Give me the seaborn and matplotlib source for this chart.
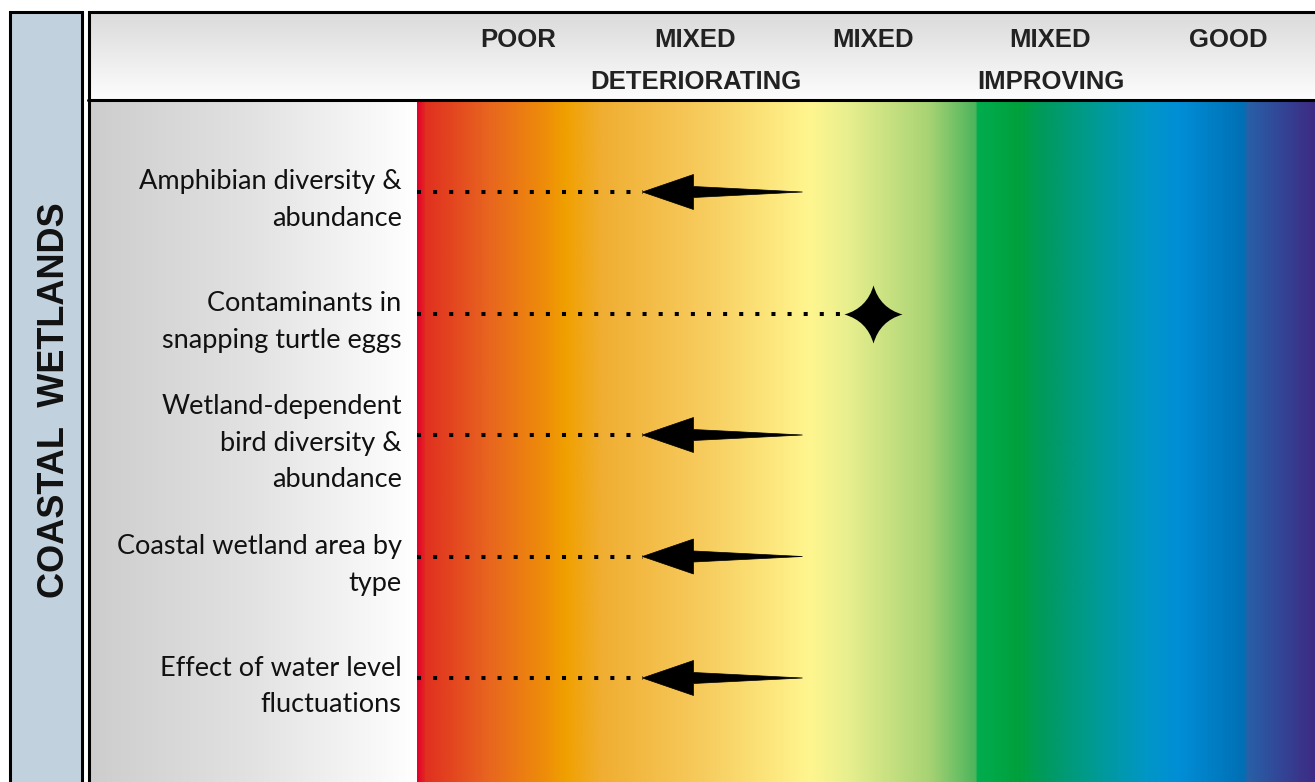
import numpy as np
import matplotlib
matplotlib.use("Agg")
import matplotlib.pyplot as plt
import matplotlib.colors as mcolors
import matplotlib.transforms as mtransforms
from matplotlib.path import Path
from matplotlib.patches import Rectangle, Polygon
from matplotlib.lines import Line2D
import seaborn as sns
import pandas as pd

####data####
section = "COASTAL  WETLANDS"
status_labels = ["POOR", "MIXED\nDETERIORATING", "MIXED", "MIXED\nIMPROVING", "GOOD"]
indicators = ["Amphibian diversity &\nabundance",
              "Contaminants in\nsnapping turtle eggs",
              "Wetland-dependent\nbird diversity &\nabundance",
              "Coastal wetland area by\ntype",
              "Effect of water level\nfluctuations"]
status = ["MIXED\nDETERIORATING", "MIXED", "MIXED\nDETERIORATING",
          "MIXED\nDETERIORATING", "MIXED\nDETERIORATING"]
trend = ["deteriorating", "undetermined", "deteriorating", "deteriorating", "deteriorating"]

####figure settings####
sns.set_style("white")
label_font = ["Lato", "DejaVu Sans"]
head_font = ["Liberation Sans", "DejaVu Sans"]

W, H = 1315, 782
COL_PX = 177.5   # pixels per status column
ROW_PX = 121.5   # pixels per indicator row

def px_rect(x0, y0, x1, y1):
    return [x0 / W, 1 - y1 / H, (x1 - x0) / W, (y1 - y0) / H]

fig = plt.figure(figsize=(W / 100, H / 100), dpi=100)
fig.patch.set_facecolor("white")

# left section band
fig.add_artist(Rectangle((9.5 / W, -0.05), 72 / W, 1.05 - 11.5 / H, transform=fig.transFigure,
                         fc="#c1d1de", ec="k", lw=2.2, zorder=1))
fig.text(55 / W, 1 - 400 / H, section, rotation=90, ha="center", va="center",
         fontsize=26, fontweight="bold", family=["Liberation Sans", "DejaVu Sans"], color="#111111")

# header with grey gradient
ax_head = fig.add_axes(px_rect(88, 11, W, 100))
ax_head.imshow(np.linspace(0, 1, 100).reshape(-1, 1), aspect="auto",
               cmap=mcolors.LinearSegmentedColormap.from_list("hd", ["#dadada", "#fdfdfd"]))
ax_head.axis("off")

# label panel with grey gradient
ax_lab = fig.add_axes(px_rect(88, 100, 417, H))
ax_lab.imshow(np.linspace(0, 1, 200).reshape(1, -1), aspect="auto",
              cmap=mcolors.LinearSegmentedColormap.from_list("lb", ["#cdcdcd", "#e2e2e2", "#ffffff"]))
ax_lab.axis("off")

# rainbow status scale
rainbow_stops = [(0.000, "#e4002b"), (0.009, "#e0301f"), (0.080, "#e8661f"), (0.140, "#ee8c0a"),
                 (0.165, "#f0a000"), (0.205, "#f0ae32"), (0.320, "#f7cc5e"), (0.438, "#fff68f"),
                 (0.480, "#e8ef8e"), (0.570, "#a8d374"), (0.622, "#4cb55c"), (0.624, "#00ad4f"),
                 (0.670, "#00a03c"), (0.700, "#009a60"), (0.760, "#009a98"), (0.815, "#0096c8"),
                 (0.850, "#008ed6"), (0.922, "#006fb4"), (0.926, "#2860a8"), (1.000, "#3d2b84")]
rainbow = mcolors.LinearSegmentedColormap.from_list("rb", rainbow_stops, N=1024)

ax = fig.add_axes(px_rect(417, 100, W, H))
x_lo, x_hi = (417 - 518) / COL_PX, (W - 518) / COL_PX
y_top, y_bot = -(192 - 100) / ROW_PX, len(indicators) - 1 + (H - 678) / ROW_PX
ax.imshow(np.linspace(0, 1, 900).reshape(1, -1), aspect="auto", cmap=rainbow,
          extent=(x_lo, x_hi, y_bot, y_top), zorder=0)
ax.set_xlim(x_lo, x_hi)
ax.set_ylim(y_bot, y_top)
for s in ax.spines.values():
    s.set_visible(False)
ax.set_xticks([])
ax.set_yticks(range(len(indicators)))
ax.set_yticklabels(indicators, fontsize=19.5, family=label_font, linespacing=1.58,
                   ha="right", color="#111111")
ax.tick_params(axis="y", length=0, pad=11)

# header labels
trans = mtransforms.blended_transform_factory(ax.transData, fig.transFigure)
for i, lab in enumerate(status_labels):
    ax.text(i, 1 - 28 / H, lab, transform=trans, ha="center", va="top", fontsize=18.5,
            fontweight="bold", family=head_font, linespacing=1.95, color="#222222")

# header separator line
fig.add_artist(Line2D([88 / W, 1], [1 - 100 / H] * 2, color="k", lw=2.2, zorder=3))
# panel border
fig.add_artist(Rectangle((88.5 / W, -0.05), 1, 1.05 - 11.5 / H, transform=fig.transFigure,
                         fc="none", ec="k", lw=2.2, zorder=3))

####markers####
xpos = [status_labels.index(s) for s in status]
df = pd.DataFrame({"x": xpos, "row": range(len(indicators)), "trend": trend})

def arrow_shape(cx, cy):
    pts = [(-53, 0), (-2, -17.5), (-2, -5.5), (107, 0), (-2, 5.5), (-2, 17.5)]
    return [(cx + px / COL_PX, cy + py / ROW_PX) for px, py in pts]

ends = []
for x, r, t in zip(df["x"], df["row"], df["trend"]):
    if t == "deteriorating":
        ax.add_patch(Polygon(arrow_shape(x, r), closed=True, fc="k", ec="k", lw=0.5, zorder=4))
        ends.append(x - 53 / COL_PX)
    else:
        ends.append(x - 29 / COL_PX)

ax.hlines(df["row"], x_lo, ends, colors="k", linestyles=(0, (1, 3)), lw=2.9, zorder=3)

# four-point star for undetermined trend
c = 0.22
star = Path([(1, 0), (c, c), (0, 1), (-c, c), (-1, 0), (-c, -c), (0, -1), (c, -c), (1, 0)],
            [Path.MOVETO] + [Path.CURVE3] * 8)
und = df[df["trend"] == "undetermined"]
sns.scatterplot(data=und, x="x", y="row", marker=star, s=1750, color="k",
                edgecolor="k", linewidth=0, ax=ax, zorder=5, legend=False)
ax.set_xlabel("")
ax.set_ylabel("")

plt.savefig("out.png", dpi=100)
